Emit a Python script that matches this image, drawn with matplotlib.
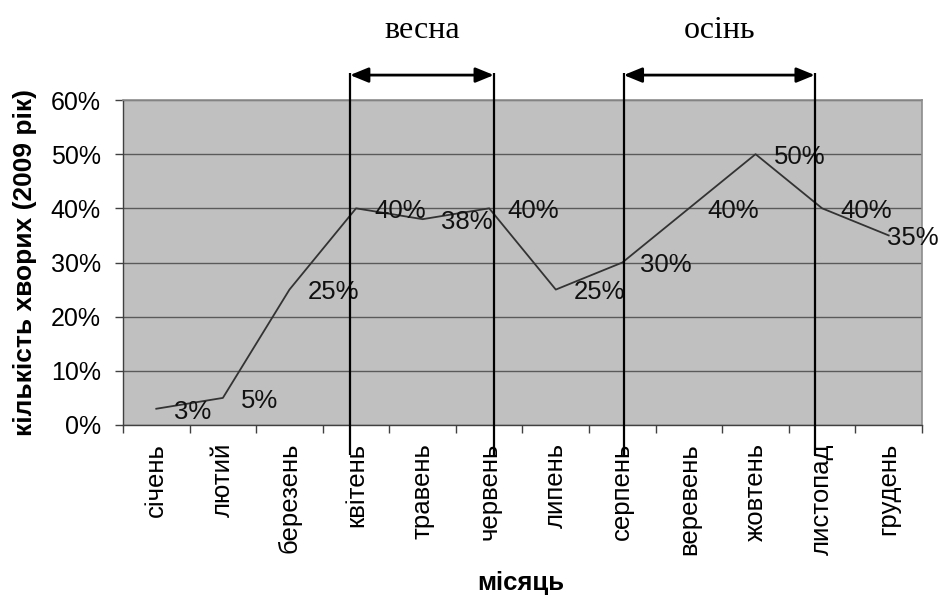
import matplotlib
matplotlib.use("Agg")
import matplotlib.pyplot as plt
from matplotlib.ticker import FixedLocator, PercentFormatter

plt.rcParams['font.family'] = ['Liberation Sans', 'DejaVu Sans']

months = ["січень", "лютий", "березень", "квітень", "травень", "червень",
          "липень", "серпень", "веревень", "жовтень", "листопад", "грудень"]
cases = [3, 5, 25, 40, 38, 40, 25, 30, 40, 50, 40, 35]
y_ticks = [0, 10, 20, 30, 40, 50, 60]

# season brackets: (label, left x, right x) in category units
seasons = [("весна", 2.91, 5.07), ("осінь", 7.02, 9.89)]

W, H = 940, 604
fig = plt.figure(figsize=(W / 100, H / 100), dpi=100)
ax = fig.add_axes([123 / W, 1 - 425 / H, 799 / W, 325 / H])

ax.set_facecolor("#c0c0c0")
x = list(range(len(months)))
ax.plot(x, cases, color="#333333", lw=1.3, zorder=3)

ax.set_xlim(-0.5, len(months) - 0.5)
ax.set_ylim(0, 60)
ax.yaxis.set_major_locator(FixedLocator(y_ticks))
ax.yaxis.set_major_formatter(PercentFormatter(decimals=0))
ax.grid(axis="y", color="#5a5a5a", lw=1.0, zorder=1)
ax.grid(axis="x", visible=False)

ax.set_xticks(x)
ax.set_xticklabels(months, rotation=90, va="top", ha="center")
ax.set_xticks([i - 0.5 for i in range(len(months) + 1)], minor=True)
ax.tick_params(axis="x", which="major", length=0, pad=13, labelsize=18.5)
ax.tick_params(axis="x", which="minor", length=6, width=1, color="#404040", direction="out")
ax.tick_params(axis="y", length=6, width=1, color="#404040", pad=10, labelsize=18)

for side in ("top", "right"):
    ax.spines[side].set_color("#8c8c8c")
    ax.spines[side].set_linewidth(1.2)
for side in ("left", "bottom"):
    ax.spines[side].set_color("#404040")
    ax.spines[side].set_linewidth(1.0)

# value labels to the right of each point
for i, v in enumerate(cases):
    dx = 13 if i < len(cases) - 1 else -1
    ax.annotate(f"{v}%", (i, v), xytext=(dx, -2), textcoords="offset points",
                ha="left", va="center", fontsize=18.5, color="#111111", zorder=4)

# season markers above the plot
y_top, y_bot, y_arrow, y_text = 65.0, -5.6, 64.6, 72.8
for name, x0, x1 in seasons:
    for xv in (x0, x1):
        ax.plot([xv, xv], [y_bot, y_top], color="black", lw=1.6,
                clip_on=False, zorder=5, solid_capstyle="butt")
    ax.annotate("", xy=(x1, y_arrow), xytext=(x0, y_arrow),
                arrowprops=dict(arrowstyle="<|-|>,head_length=1.1,head_width=0.45",
                                color="black", lw=2.0, shrinkA=0, shrinkB=0),
                annotation_clip=False, zorder=5)
    ax.text((x0 + x1) / 2, y_text, name, ha="center", va="center",
            fontsize=23, family=["Liberation Serif", "DejaVu Serif"], clip_on=False)

fig.text(25 / W, 1 - 262 / H, "кількість хворих (2009 рік)", rotation=90,
         ha="center", va="center", fontsize=19, fontweight="bold")
fig.text(521 / W, 1 - 583 / H, "місяць", ha="center", va="center",
         fontsize=18.5, fontweight="bold")

fig.savefig("out.png", dpi=100)
